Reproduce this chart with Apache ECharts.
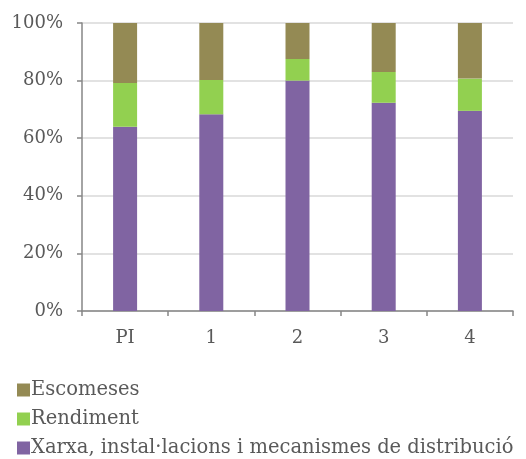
<!DOCTYPE html>
<html><head><meta charset="utf-8">
<script src="https://cdn.jsdelivr.net/npm/echarts@6/dist/echarts.min.js"></script>
<style>html,body{margin:0;padding:0;background:#fff}#c{width:526px;height:459px}</style>
</head><body><div id="c"></div>
<script>
const categories = ['PI', '1', '2', '3', '4'];
const xarxa = [64.0, 68.3, 80.0, 72.3, 69.5];
const rendiment = [15.2, 11.9, 7.5, 10.7, 11.2];
const escomeses = [20.8, 19.8, 12.5, 17.0, 19.3];
const yTicks = [0, 20, 40, 60, 80, 100];
const seriesNames = ['Xarxa, instal·lacions i mecanismes de distribució', 'Rendiment', 'Escomeses'];

const FONT = 'DejaVu Serif';
const TXT = '#595959';
const chart = echarts.init(document.getElementById('c'), null, {renderer: 'canvas'});
chart.setOption({
  animation: false,
  backgroundColor: '#fff',
  grid: {left: 82, right: 13, top: 23, bottom: 148},
  legend: {
    orient: 'vertical', left: 12, top: 375, height: 90, width: 520,
    data: [seriesNames[2], seriesNames[1], seriesNames[0]],
    itemWidth: 13, itemHeight: 13, itemGap: 9,
    icon: 'rect',
    textStyle: {fontFamily: FONT, fontSize: 19.5, color: TXT, padding: [0, 0, 0, -4]}
  },
  xAxis: {
    type: 'category', data: categories,
    axisLine: {lineStyle: {color: '#868686', width: 1.5}},
    axisTick: {show: true, length: 5, lineStyle: {color: '#868686', width: 1.5}},
    axisLabel: {fontFamily: FONT, fontSize: 18, color: TXT, margin: 18}
  },
  yAxis: {
    type: 'value', min: yTicks[0], max: yTicks[yTicks.length - 1], interval: 20,
    axisLine: {show: true, lineStyle: {color: '#868686', width: 1.5}},
    axisTick: {show: true, length: 5, lineStyle: {color: '#868686', width: 1.5}},
    splitLine: {lineStyle: {color: '#d9d9d9', width: 1.5}},
    axisLabel: {fontFamily: FONT, fontSize: 18, color: TXT, margin: 19, formatter: v => v + '%'}
  },
  series: [
    {name: seriesNames[0], type: 'bar', stack: 's', data: xarxa, barWidth: 24, itemStyle: {color: '#8064A2'}},
    {name: seriesNames[1], type: 'bar', stack: 's', data: rendiment, barWidth: 24, itemStyle: {color: '#92D050'}},
    {name: seriesNames[2], type: 'bar', stack: 's', data: escomeses, barWidth: 24, itemStyle: {color: '#948A54'}}
  ]
});
</script></body></html>
